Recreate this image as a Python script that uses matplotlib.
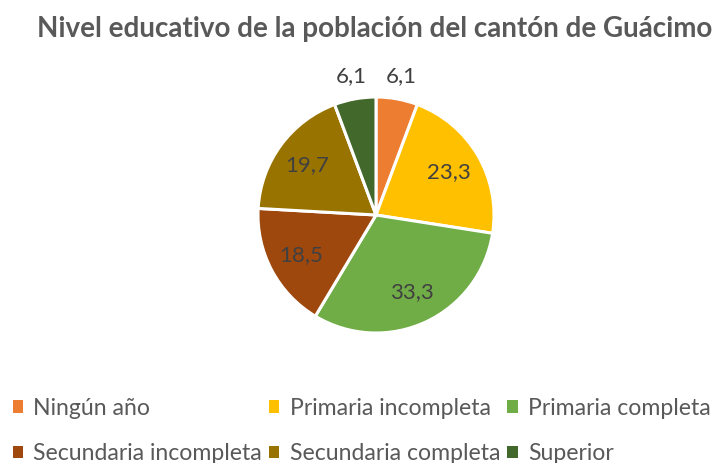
import matplotlib
matplotlib.use("Agg")
import matplotlib.pyplot as plt
from matplotlib.patches import Patch
import numpy as np

# ── Data ─────────────────────────────────────────────────────────────────────
categories = ["Ningún año", "Primaria incompleta", "Primaria completa",
              "Secundaria incompleta", "Secundaria completa", "Superior"]
values = [6.1, 23.3, 33.3, 18.5, 19.7, 6.1]
colors = ["#ED7D31", "#FFC000", "#70AD47", "#9E480E", "#997300", "#43682B"]
title = "Nivel educativo de la población del cantón de Guácimo"

plt.rcParams['font.family'] = ['Lato', 'DejaVu Sans']
TEXT = "#404040"

W, H = 712, 463
fig = plt.figure(figsize=(W / 100, H / 100), dpi=100)

# pie axes: center (376, 215) px, radius 118 px
cx, cy, r = 376, 215, 118
ax = fig.add_axes([(cx - r) / W, (H - cy - r) / H, 2 * r / W, 2 * r / H])

wedges, _ = ax.pie(
    values, colors=colors, startangle=90, counterclock=False,
    radius=1, wedgeprops=dict(edgecolor="white", linewidth=2.2),
)
ax.set_xlim(-1, 1)
ax.set_ylim(-1, 1)
ax.set_aspect("equal")
ax.axis("off")

# ── Data labels ──────────────────────────────────────────────────────────────
for w, v in zip(wedges, values):
    ang = np.deg2rad((w.theta1 + w.theta2) / 2)
    dist = 1.2 if v < 10 else 0.72
    ax.text(dist * np.cos(ang), dist * np.sin(ang), f"{v:.1f}".replace(".", ","),
            ha="center", va="center", fontsize=16, color=TEXT, clip_on=False)

fig.text(0.526, 1 - 29 / H, title, ha="center", va="center",
         fontsize=20, fontweight="bold", color="#595959")

# ── Legend (row-major order for 3 columns) ──────────────────────────────────
handles = [Patch(facecolor=c, edgecolor="none") for c in colors]
order = [0, 3, 1, 4, 2, 5]
fig.legend([handles[i] for i in order], [categories[i] for i in order],
           ncol=3, loc="center", bbox_to_anchor=(0.508, 1 - 431 / H),
           frameon=False, fontsize=16.6, labelcolor="#595959",
           handlelength=0.45, handleheight=0.45, handletextpad=0.45,
           columnspacing=0.3, labelspacing=1.05)

fig.savefig("out.png", dpi=100, facecolor="white")
